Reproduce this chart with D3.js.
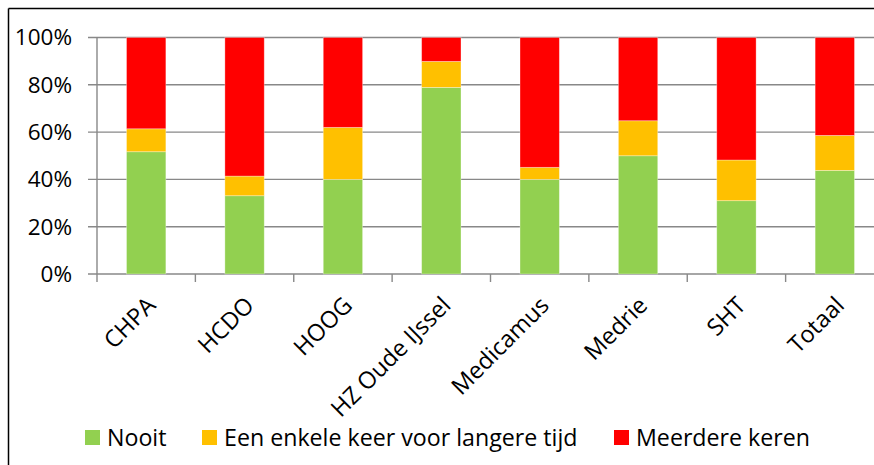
<!DOCTYPE html>
<html lang="nl">
<head>
<meta charset="UTF-8">
<title>Nooit / Een enkele keer / Meerdere keren</title>
<script src="https://d3js.org/d3.v7.min.js"></script>
<style>
  body { margin: 0; background: #fff; }
  svg { display: block; font-family: "Open Sans", sans-serif; }
</style>
</head>
<body>
<svg id="chart" width="874" height="465"></svg>
<script>
// categories and series (percent of total per category)
var categories = ["CHPA", "HCDO", "HOOG", "HZ Oude IJssel", "Medicamus", "Medrie", "SHT", "Totaal"];
var seriesNames = ["Nooit", "Een enkele keer voor langere tijd", "Meerdere keren"];
var nooit     = [51.7, 33.1, 40.0, 78.9, 40.0, 50.0, 31.0, 43.8];
var eenKeer   = [9.7, 8.3, 22.0, 11.0, 5.1, 14.8, 17.2, 14.8];
var meerdere  = [38.6, 58.6, 38.0, 10.1, 54.9, 35.2, 51.8, 41.4];
var yTicks = [0, 20, 40, 60, 80, 100];
var colors = ["#92D050", "#FFC000", "#FF0000"];

var svg = d3.select("#chart");

// chart frame (right and bottom edges fall outside the picture)
svg.append("line").attr("x1", 8.5).attr("x2", 874).attr("y1", 8.5).attr("y2", 8.5)
  .attr("stroke", "#000").attr("stroke-width", 1.5);
svg.append("line").attr("x1", 8.5).attr("x2", 8.5).attr("y1", 8.5).attr("y2", 465)
  .attr("stroke", "#000").attr("stroke-width", 1.5);

var plotL = 97, plotW = 787, plotT = 37.5, plotB = 274;

var x = d3.scaleBand().domain(categories).range([plotL, plotL + plotW]).paddingInner(0.6).paddingOuter(0.3);
var y = d3.scaleLinear().domain([0, 100]).range([plotB, plotT]);

// gridlines with left tick stubs
svg.append("g").selectAll("line").data(yTicks).enter().append("line")
  .attr("x1", plotL - 9).attr("x2", plotL + plotW)
  .attr("y1", function(d) { return y(d); }).attr("y2", function(d) { return y(d); })
  .attr("stroke", "#888").attr("stroke-width", 1.4);

// y axis line
svg.append("line").attr("x1", plotL).attr("x2", plotL).attr("y1", plotT).attr("y2", plotB)
  .attr("stroke", "#888").attr("stroke-width", 1.4);

// x axis tick marks between categories
var step = plotW / categories.length;
svg.append("g").selectAll("line").data(d3.range(categories.length + 1)).enter().append("line")
  .attr("x1", function(i) { return plotL + i * step; }).attr("x2", function(i) { return plotL + i * step; })
  .attr("y1", plotB).attr("y2", plotB + 8)
  .attr("stroke", "#888").attr("stroke-width", 1.4);

// y labels
svg.append("g").selectAll("text").data(yTicks).enter().append("text")
  .attr("x", 72).attr("y", function(d) { return y(d); })
  .attr("dy", "0.35em").attr("text-anchor", "end")
  .attr("font-size", 22.5).attr("fill", "#000")
  .text(function(d) { return d + "%"; });

// stacked bars
var rows = categories.map(function(c, i) {
  return { cat: c, s0: nooit[i], s1: eenKeer[i], s2: meerdere[i] };
});
var stack = d3.stack().keys(["s0", "s1", "s2"]);
var layers = stack(rows);

svg.append("g").selectAll("g").data(layers).enter().append("g")
  .attr("fill", function(d, i) { return colors[i]; })
  .selectAll("rect").data(function(d) { return d; }).enter().append("rect")
  .attr("x", function(d) { return x(d.data.cat); })
  .attr("width", x.bandwidth())
  .attr("y", function(d) { return y(d[1]); })
  .attr("height", function(d) { return y(d[0]) - y(d[1]); })
  .attr("stroke", "#fff").attr("stroke-opacity", 0.4).attr("stroke-width", 0.8);

// x labels rotated
svg.append("g").selectAll("text").data(categories).enter().append("text")
  .attr("transform", function(d) {
    return "translate(" + (x(d) + x.bandwidth() / 2 + 5) + "," + (plotB + 27) + ") rotate(-45)";
  })
  .attr("text-anchor", "end").attr("dy", "0.35em")
  .attr("font-size", 23.5).attr("fill", "#000")
  .text(function(d) { return d; });

// legend
var legendX = [85, 202, 614];
var lg = svg.append("g").selectAll("g").data(seriesNames).enter().append("g")
  .attr("transform", function(d, i) { return "translate(" + legendX[i] + ",430)"; });
lg.append("rect").attr("width", 15).attr("height", 15)
  .attr("fill", function(d, i) { return colors[i]; });
lg.append("text").attr("x", 22).attr("y", 7.5).attr("dy", "0.36em")
  .attr("font-size", 23.2).attr("fill", "#000")
  .text(function(d) { return d; });
</script>
</body>
</html>
